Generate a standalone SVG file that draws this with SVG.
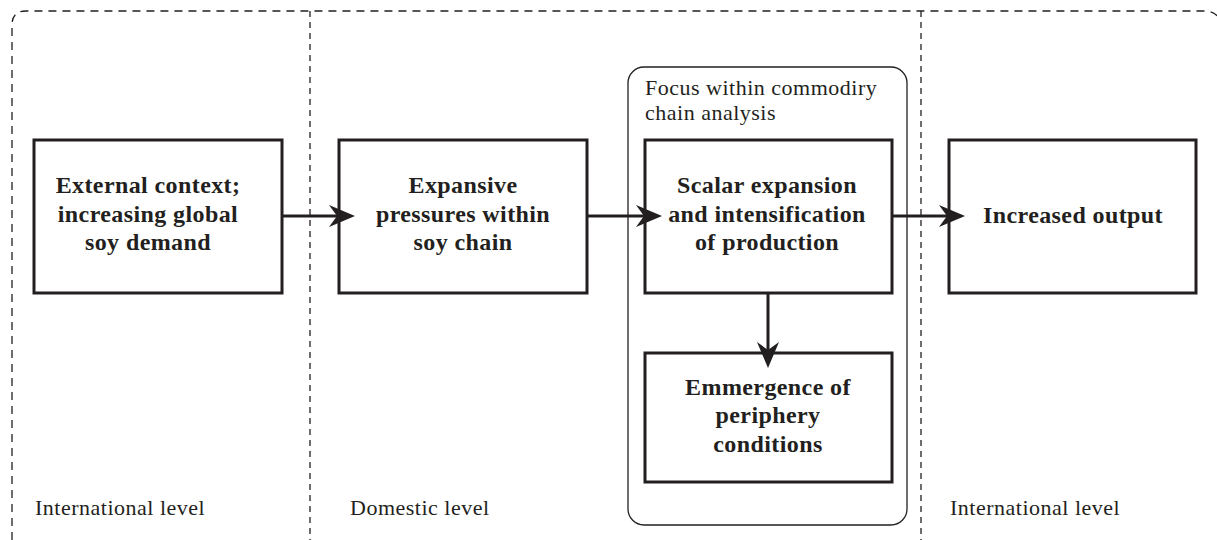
<svg xmlns="http://www.w3.org/2000/svg" width="1217" height="540" viewBox="0 0 1217 540">
<style>
.box{fill:none;stroke:#231f20;stroke-width:3}
.dash{fill:none;stroke:#231f20;stroke-width:1.3;stroke-dasharray:6 5}
.lbl{font-family:"Liberation Serif",serif;font-size:22px;letter-spacing:0.5px;fill:#231f20}
.bt{font-family:"Liberation Serif",serif;font-size:24px;letter-spacing:0.4px;font-weight:bold;fill:#231f20;text-anchor:middle}
.conn{stroke:#231f20;stroke-width:3;fill:none}
</style>
<defs>
<marker id="ah" markerUnits="userSpaceOnUse" viewBox="-27 -12 28 24" refX="-14" refY="0" markerWidth="28" markerHeight="24" orient="auto">
<path d="M0,0 L-26,-11 L-18,0 L-26,11 Z" fill="#231f20"/>
</marker>
</defs>
<g id="frame">
<path class="dash" d="M12,540 L12,25 Q12,11 26,11 L1204,11 Q1214,11 1218,17" style="stroke-dasharray:8 6"/>
<line class="dash" x1="310" y1="11" x2="310" y2="540"/>
<line class="dash" x1="921" y1="11" x2="921" y2="540"/>
</g>
<g id="focus">
<rect x="628" y="67" width="279" height="458" rx="16" fill="none" stroke="#231f20" stroke-width="1.3"/>
<text class="lbl" x="645" y="95">Focus within commodiry</text>
<text class="lbl" x="645" y="120">chain analysis</text>
</g>
<g id="levels">
<text class="lbl" x="35" y="515">International level</text>
<text class="lbl" x="350" y="515">Domestic level</text>
<text class="lbl" x="950" y="515">International level</text>
</g>
<g id="connectors">
<line class="conn" x1="282" y1="216" x2="341" y2="216" marker-end="url(#ah)"/>
<line class="conn" x1="587" y1="216" x2="648" y2="216" marker-end="url(#ah)"/>
<line class="conn" x1="892" y1="216" x2="951" y2="216" marker-end="url(#ah)"/>
<line class="conn" x1="768" y1="293" x2="768" y2="354" marker-end="url(#ah)"/>
</g>
<g id="n1">
<rect class="box" x="34" y="140" width="248" height="153"/>
<text class="bt" x="148" y="193">External context;</text>
<text class="bt" x="148" y="222">increasing global</text>
<text class="bt" x="148" y="250">soy demand</text>
</g>
<g id="n2">
<rect class="box" x="339" y="140" width="248" height="153"/>
<text class="bt" x="463" y="193">Expansive</text>
<text class="bt" x="463" y="222">pressures within</text>
<text class="bt" x="463" y="250">soy chain</text>
</g>
<g id="n3">
<rect class="box" x="645" y="140" width="247" height="153"/>
<text class="bt" x="767" y="193">Scalar expansion</text>
<text class="bt" x="767" y="222">and intensification</text>
<text class="bt" x="767" y="250">of production</text>
</g>
<g id="n4">
<rect class="box" x="949" y="140" width="247" height="153"/>
<text class="bt" x="1073" y="223">Increased output</text>
</g>
<g id="n5">
<rect class="box" x="645" y="353" width="247" height="129"/>
<text class="bt" x="768" y="395">Emmergence of</text>
<text class="bt" x="768" y="423">periphery</text>
<text class="bt" x="768" y="452">conditions</text>
</g>
</svg>
